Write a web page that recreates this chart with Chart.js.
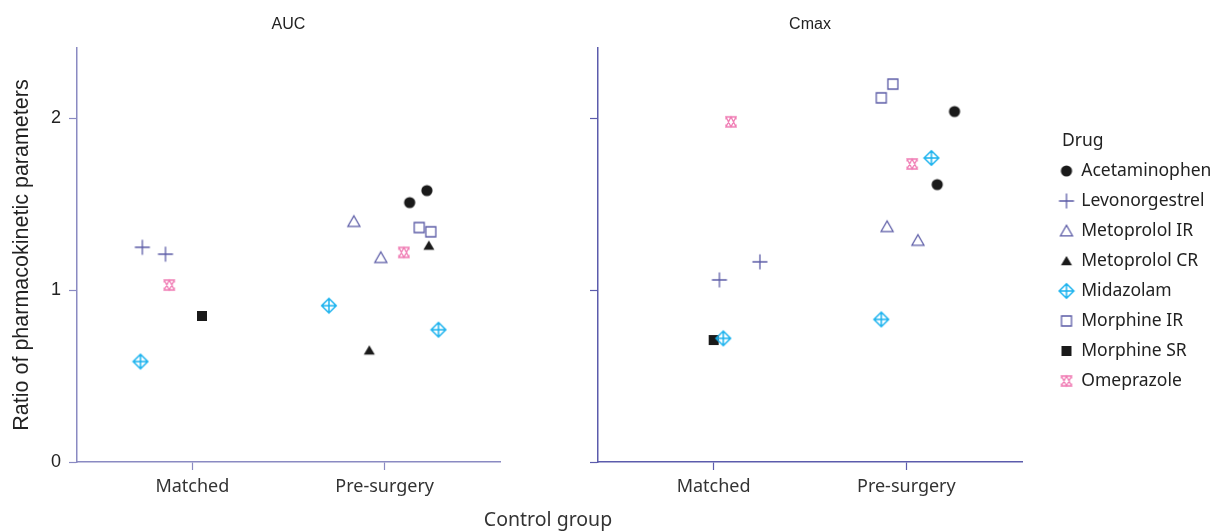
<!DOCTYPE html>
<html>
<head>
<meta charset="utf-8">
<script src="https://cdn.jsdelivr.net/npm/chart.js@4.4.1/dist/chart.umd.min.js"></script>
<style>
  body { margin: 0; background: #fff; overflow: hidden; }
  #wrap { position: relative; width: 1215px; height: 531px; overflow: hidden; }
  #auc { position: absolute; left: 0; top: 0; }
  #cmax { position: absolute; left: 520px; top: 0; }
  #xtitle { position: absolute; left: 0; width: 1096px; top: 505px; text-align: center;
            font: 19.5px "Noto Sans"; color: #333; }
</style>
</head>
<body>
<div id="wrap">
  <canvas id="auc" width="510" height="531"></canvas>
  <canvas id="cmax" width="704" height="531"></canvas>
  <div id="xtitle">Control group</div>
</div>
<script>
// categories and ticks
const drugs = ['Acetaminophen', 'Levonorgestrel', 'Metoprolol IR', 'Metoprolol CR',
               'Midazolam', 'Morphine IR', 'Morphine SR', 'Omeprazole'];
const groups = ['Matched', 'Pre-surgery'];
const groupPos = [1, 2];
const yTicks = [0, 1, 2];

// AUC panel (x = group position incl. jitter)
const aucDrug = ['Levonorgestrel', 'Levonorgestrel', 'Omeprazole', 'Morphine SR', 'Midazolam',
                 'Metoprolol IR', 'Metoprolol IR', 'Midazolam', 'Midazolam', 'Metoprolol CR',
                 'Metoprolol CR', 'Acetaminophen', 'Acetaminophen', 'Morphine IR', 'Morphine IR', 'Omeprazole'];
const aucX = [0.74, 0.86, 0.88, 1.05, 0.73, 1.84, 1.98, 1.71, 2.28, 1.92, 2.23, 2.13, 2.22, 2.18, 2.24, 2.10];
const aucY = [1.25, 1.21, 1.03, 0.85, 0.585, 1.40, 1.19, 0.91, 0.77, 0.65, 1.26, 1.51, 1.58, 1.365, 1.34, 1.22];

// Cmax panel
const cmaxDrug = ['Levonorgestrel', 'Levonorgestrel', 'Omeprazole', 'Morphine SR', 'Midazolam',
                  'Morphine IR', 'Morphine IR', 'Acetaminophen', 'Acetaminophen', 'Omeprazole',
                  'Midazolam', 'Midazolam', 'Metoprolol IR', 'Metoprolol IR'];
const cmaxX = [1.03, 1.24, 1.09, 1.00, 1.05, 1.93, 1.87, 2.25, 2.16, 2.03, 2.13, 1.87, 1.90, 2.06];
const cmaxY = [1.06, 1.165, 1.98, 0.71, 0.72, 2.20, 2.12, 2.04, 1.615, 1.735, 1.77, 0.83, 1.37, 1.29];

const purple = '#5b5ba6';
const cyan = '#1ab2ee';
const pink = '#f07cb4';
const black = '#1a1a1a';
const arial = 'Liberation Sans';
const sans = 'Noto Sans';

// marker images, one per drug
function marker(kind, color) {
  const c = document.createElement('canvas');
  c.width = 18; c.height = 18;
  const g = c.getContext('2d');
  g.translate(9, 9);
  g.strokeStyle = color;
  g.fillStyle = color;
  g.lineWidth = 1.3;
  g.beginPath();
  if (kind === 'circle') {
    g.arc(0, 0, 5.6, 0, Math.PI * 2);
    g.fill();
  } else if (kind === 'plus') {
    g.moveTo(-7.5, 0); g.lineTo(7.5, 0);
    g.moveTo(0, -7.5); g.lineTo(0, 7.5);
    g.stroke();
  } else if (kind === 'triOpen') {
    g.moveTo(0, -5.8); g.lineTo(6, 4.8); g.lineTo(-6, 4.8); g.closePath();
    g.stroke();
  } else if (kind === 'triFill') {
    g.moveTo(0, -5); g.lineTo(5.5, 4.3); g.lineTo(-5.5, 4.3); g.closePath();
    g.fill();
  } else if (kind === 'diamondPlus') {
    g.lineWidth = 1.5;
    g.moveTo(0, -7.3); g.lineTo(7.3, 0); g.lineTo(0, 7.3); g.lineTo(-7.3, 0); g.closePath();
    g.moveTo(-7.3, 0); g.lineTo(7.3, 0);
    g.moveTo(0, -7.3); g.lineTo(0, 7.3);
    g.stroke();
  } else if (kind === 'squareOpen') {
    g.rect(-5, -5, 10, 10);
    g.stroke();
  } else if (kind === 'squareFill') {
    g.rect(-5, -5, 10, 10);
    g.fill();
  } else if (kind === 'hourglass') {
    g.moveTo(-5, 5); g.lineTo(5, 5); g.lineTo(0, -5); g.closePath();
    g.moveTo(-5, -5); g.lineTo(5, -5); g.lineTo(0, 5); g.closePath();
    g.moveTo(-5, -5); g.lineTo(-5, -2.5);
    g.moveTo(5, -5); g.lineTo(5, -2.5);
    g.moveTo(-5, 5); g.lineTo(-5, 2.5);
    g.moveTo(5, 5); g.lineTo(5, 2.5);
    g.stroke();
  }
  return c;
}

const markers = [
  marker('circle', black),
  marker('plus', purple),
  marker('triOpen', purple),
  marker('triFill', black),
  marker('diamondPlus', cyan),
  marker('squareOpen', purple),
  marker('squareFill', black),
  marker('hourglass', pink)
];
const colors = [black, purple, purple, black, cyan, purple, black, pink];

function buildDatasets(names, xs, ys) {
  return drugs.map((d, i) => ({
    label: d,
    data: names.map((n, k) => n === d ? { x: xs[k], y: ys[k] } : null).filter(p => p),
    pointStyle: markers[i],
    borderColor: colors[i],
    backgroundColor: colors[i]
  }));
}

// fixes the legend box so the plot area keeps the same width as the left panel,
// nudges the legend right, and indents the title a little
const LEGEND_W = 202;
const LEGEND_SHIFT = 26;
const TITLE_INDENT = 14;
const legendFit = {
  id: 'legendFit',
  beforeLayout(chart) {
    const lg = chart.legend;
    if (!lg || lg._fixed) return;
    const fit = lg.fit.bind(lg);
    lg.fit = function () { fit(); this.width = LEGEND_W; };
    const drawTitle = lg.drawTitle.bind(lg);
    lg.drawTitle = function () {
      this.left += TITLE_INDENT;
      drawTitle();
      this.left -= TITLE_INDENT;
    };
    lg._fixed = true;
  },
  afterLayout(chart) {
    const lg = chart.legend;
    if (!lg) return;
    lg.left += LEGEND_SHIFT;
    lg.right += LEGEND_SHIFT;
  }
};

function panel(id, title, names, xs, ys, axisColor, showLabels, showLegend) {
  return new Chart(document.getElementById(id), {
    type: 'scatter',
    data: { datasets: buildDatasets(names, xs, ys) },
    plugins: showLegend ? [legendFit] : [],
    options: {
      responsive: false,
      animation: false,
      layout: { padding: { right: showLegend ? 0 : 10 } },
      plugins: {
        tooltip: { enabled: false },
        title: {
          display: true,
          text: title,
          fullSize: false,
          color: '#222',
          font: { family: arial, size: 16, weight: 'normal' },
          padding: { top: 15, bottom: 13.8 }
        },
        legend: {
          display: showLegend,
          position: 'right',
          align: 'center',
          title: {
            display: true,
            text: 'Drug',
            color: '#222',
            position: 'start',
            font: { family: sans, size: 17.5 },
            padding: { top: 4, bottom: -4 }
          },
          labels: {
            usePointStyle: true,
            pointStyleWidth: 12,
            color: '#222',
            font: { family: sans, size: 17.5 },
            padding: 12.5
          }
        }
      },
      scales: {
        x: {
          type: 'linear',
          min: 0.4,
          max: 2.6,
          afterBuildTicks: s => { s.ticks = groupPos.map(v => ({ value: v })); },
          afterFit: s => { s.height = 69; },
          ticks: {
            callback: v => groups[groupPos.indexOf(v)],
            color: '#333',
            font: { family: sans, size: 18 },
            padding: 6,
            maxRotation: 0
          },
          grid: { drawOnChartArea: false, tickLength: 8, color: axisColor, tickWidth: 1.2 },
          border: { color: axisColor, width: 1.5 }
        },
        y: {
          min: 0,
          max: 2.41,
          afterBuildTicks: s => { s.ticks = yTicks.map(v => ({ value: v })); },
          afterFit: s => { s.width = showLabels ? 77 : 78; },
          ticks: {
            callback: v => showLabels ? String(v) : '',
            color: '#222',
            font: { family: arial, size: 18 },
            padding: 8
          },
          title: {
            display: showLabels,
            text: 'Ratio of pharmacokinetic parameters',
            color: '#222',
            font: { family: arial, size: 21.5 },
            padding: { top: 9, bottom: 0 }
          },
          grid: { drawOnChartArea: false, tickLength: 8, color: axisColor, tickWidth: 1.2 },
          border: { color: axisColor, width: 1.5 }
        }
      }
    }
  });
}

panel('auc', 'AUC', aucDrug, aucX, aucY, '#8a8ac2', true, false);
panel('cmax', 'Cmax', cmaxDrug, cmaxX, cmaxY, '#5c5cac', false, true);
</script>
</body>
</html>
